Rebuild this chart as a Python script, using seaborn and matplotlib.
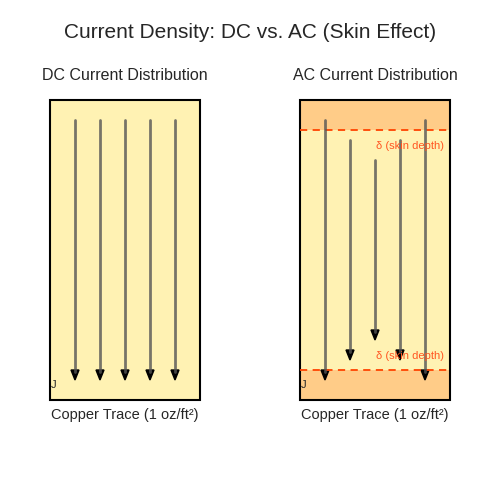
import pandas as pd
import matplotlib.pyplot as plt
import matplotlib.patches as patches
import seaborn as sns

# arrow positions (pixel units of a 500x500 canvas)
dc_x = [75, 100, 125, 150, 175]
dc_top = [120, 120, 120, 120, 120]
dc_bot = [380, 380, 380, 380, 380]
ac_x = [325, 350, 375, 400, 425]
ac_top = [120, 140, 160, 140, 120]
ac_bot = [380, 360, 340, 360, 380]

sns.set_style("white")
plt.rcParams["font.family"] = ["Liberation Sans", "DejaVu Sans"]

fig = plt.figure(figsize=(5, 5), dpi=100)
ax = fig.add_axes([0, 0, 1, 1])
ax.set_xlim(0, 500)
ax.set_ylim(500, 0)
ax.axis("off")

# conductor boxes
ax.add_patch(patches.Rectangle((50, 100), 150, 300, facecolor="#fff2b3", edgecolor="none"))
ax.add_patch(patches.Rectangle((300, 100), 150, 300, facecolor="#fff2b3", edgecolor="none"))
ax.add_patch(patches.Rectangle((300, 100), 150, 30, facecolor="#ffcc88", edgecolor="none"))
ax.add_patch(patches.Rectangle((300, 370), 150, 30, facecolor="#ffcc88", edgecolor="none"))
ax.plot([300, 450], [130, 130], color="#ff4400", lw=1.3, ls=(0, (4, 3)))
ax.plot([300, 450], [370, 370], color="#ff4400", lw=1.3, ls=(0, (4, 3)))
ax.text(376, 146, "δ (skin depth)", color="#ff5522", fontsize=8, va="center")
ax.text(376, 356, "δ (skin depth)", color="#ff5522", fontsize=8, va="center")

rows = []
for i, (x, t, b) in enumerate(zip(dc_x + ac_x, dc_top + ac_top, dc_bot + ac_bot)):
    rows.append({"id": i, "x": x, "y": t})
    rows.append({"id": i, "x": x, "y": b - 8})
df = pd.DataFrame(rows)
sns.lineplot(data=df, x="x", y="y", units="id", estimator=None, sort=False,
             color="#555555", alpha=0.8, lw=2, ax=ax, legend=False)
ax.set_xlim(0, 500)
ax.set_ylim(500, 0)
ax.axis("off")
for x, b in zip(dc_x + ac_x, dc_bot + ac_bot):
    ax.add_patch(patches.Polygon([[x - 4, b - 10], [x + 4, b - 10], [x, b]], color="black"))

for x0 in (50, 300):
    ax.add_patch(patches.Rectangle((x0, 100), 150, 300, facecolor="none", edgecolor="black", lw=1.5))
    ax.text(x0 + 1, 385, "J", fontsize=8, va="center")

ax.text(250, 33, "Current Density: DC vs. AC (Skin Effect)", fontsize=15, ha="center", va="center")
ax.text(125, 75, "DC Current Distribution", fontsize=11.5, ha="center", va="center")
ax.text(375, 75, "AC Current Distribution", fontsize=11.5, ha="center", va="center")
ax.text(125, 415, "Copper Trace (1 oz/ft²)", fontsize=10.5, ha="center", va="center")
ax.text(375, 415, "Copper Trace (1 oz/ft²)", fontsize=10.5, ha="center", va="center")

fig.savefig("out.png", dpi=100)
